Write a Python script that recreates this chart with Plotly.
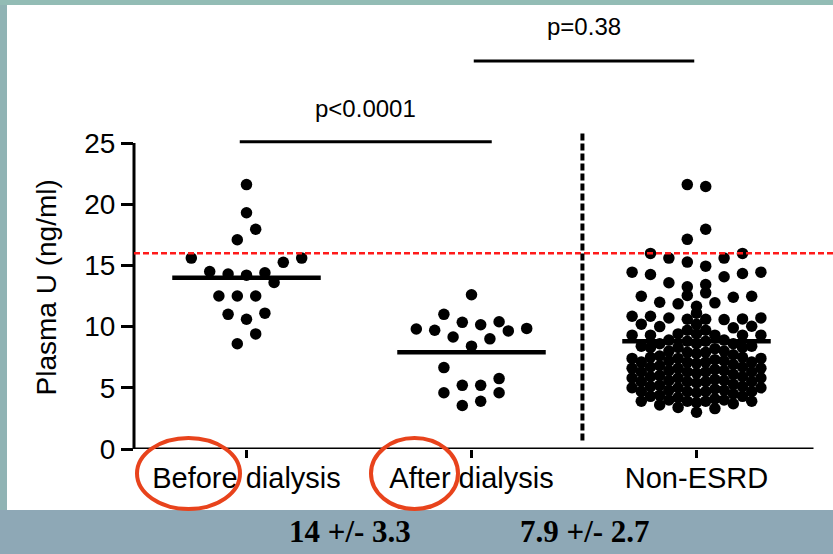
import plotly.graph_objects as go

# ---------------- data ----------------
CATEGORIES = ["Before dialysis", "After dialysis", "Non-ESRD"]
GROUP_MEANS = [14.0, 7.9, 8.8]
MEAN_LABELS = ["14 +/- 3.3", "7.9 +/- 2.7"]
THRESHOLD = 16

# individual values and their swarm column (offset from the category centre)
BEFORE_VALUES = [21.6, 19.3, 17.95, 17.1, 15.6, 15.25, 15.6, 14.5, 14.3, 14.2,
                 14.4, 13.6, 12.5, 12.5, 12.5, 11.0, 10.6, 11.1, 9.4, 8.6]
BEFORE_COLS = [0, 0, 1, -1, -6, 4, 6, -4, -2, 0, 2, 3, -3, -1, 1, -2, 0, 2, 1, -1]

AFTER_VALUES = [12.6, 11.0, 9.8, 9.7, 10.35, 10.15, 10.4, 9.65, 9.85, 9.15,
                9.0, 8.4, 6.65, 5.2, 5.2, 5.75, 4.6, 4.6, 3.55, 3.9]
AFTER_COLS = [0, -3, -6, -4, -1, 1, 3, 4, 6, -2, 2, 0, -3, -1, 1, 3, -3, 3, -1, 1]

# Non-ESRD values listed per swarm column, from column -7 to column +7
NON_ESRD_COLUMNS = [
    [5.0, 5.8, 6.6, 7.4, 9.3, 10.85, 14.45],
    [3.9, 4.7, 5.5, 6.3, 7.1, 8.4, 10.2, 12.48],
    [4.3, 5.1, 5.9, 6.7, 7.5, 8.3, 9.3, 10.85, 14.26, 15.98],
    [3.6, 4.4, 5.2, 6.0, 6.8, 7.6, 8.6, 10.0, 11.99],
    [4.0, 4.8, 5.6, 6.4, 7.2, 8.0, 8.9, 10.7, 13.58, 15.6],
    [3.4, 4.2, 5.0, 5.8, 6.6, 7.4, 8.3, 9.4, 11.86],
    [3.9, 4.7, 5.5, 6.3, 7.1, 7.9, 8.8, 9.7, 10.6, 12.54, 13.25, 15.27, 17.13, 21.6],
    [3.0, 3.8, 4.6, 5.4, 6.2, 7.0, 7.8, 8.6, 9.4, 10.2, 11.1, 11.66],
    [3.9, 4.7, 5.5, 6.3, 7.1, 7.9, 8.8, 9.7, 10.6, 12.76, 13.44, 14.94, 17.95, 21.45],
    [3.3, 4.1, 4.9, 5.7, 6.5, 7.3, 8.2, 9.3, 11.94],
    [4.0, 4.8, 5.6, 6.4, 7.2, 8.0, 8.9, 10.57, 14.07, 15.6],
    [3.7, 4.5, 5.3, 6.1, 6.9, 7.7, 8.6, 9.9, 12.4],
    [4.3, 5.1, 5.9, 6.7, 7.5, 8.3, 9.3, 10.63, 14.34, 15.98],
    [3.9, 4.7, 5.5, 6.3, 7.1, 8.4, 10.03, 12.48],
    [5.0, 5.8, 6.6, 7.4, 9.3, 10.71, 14.45],
]
NON_ESRD_FIRST_COL = -7

P_LABELS = ["p<0.0001", "p=0.38"]
P_SPANS = [(-0.03, 1.09), (1.01, 1.99)]
P_LINE_Y = [25.1, 31.7]
P_TEXT_Y = [27.8, 34.5]

# ---------------- geometry ----------------
W, H = 833, 554
M_L, M_R, M_T, M_B = 134, 0, 6, 105
PLOT_W = W - M_L - M_R
PLOT_H = H - M_T - M_B
X_MIN = -0.5
PX_PER_CAT = 225.0
X_MAX = X_MIN + PLOT_W / PX_PER_CAT
PX_PER_UNIT = 12.24
Y_MAX = PLOT_H / PX_PER_UNIT
SWARM_STEP = 9.2 / PX_PER_CAT
MEAN_HALF = 0.33
AXIS_END = 2.52

FONT = "Liberation Sans, Arial, sans-serif"


def paper_x(px):
    return (px - M_L) / PLOT_W


def paper_y(py):
    return (H - M_B - py) / PLOT_H


# flatten the swarm data
xs, ys = [], []
for v, c in zip(BEFORE_VALUES, BEFORE_COLS):
    xs.append(0 + c * SWARM_STEP)
    ys.append(v)
for v, c in zip(AFTER_VALUES, AFTER_COLS):
    xs.append(1 + c * SWARM_STEP)
    ys.append(v)
for i, col_vals in enumerate(NON_ESRD_COLUMNS):
    c = NON_ESRD_FIRST_COL + i
    for v in col_vals:
        xs.append(2 + c * SWARM_STEP)
        ys.append(v)

fig = go.Figure()
fig.add_trace(go.Scatter(
    x=xs, y=ys, mode="markers",
    marker=dict(color="black", size=11.5, line=dict(width=0)),
    hoverinfo="skip", showlegend=False,
))

shapes = []
# slide background
shapes.append(dict(type="rect", xref="paper", yref="paper", layer="below",
                   x0=paper_x(0), x1=paper_x(W), y0=paper_y(0), y1=paper_y(6),
                   fillcolor="#93bcb5", line=dict(width=0)))
shapes.append(dict(type="rect", xref="paper", yref="paper", layer="below",
                   x0=paper_x(0), x1=paper_x(7), y0=paper_y(510), y1=paper_y(5),
                   fillcolor="#90b3b4", line=dict(width=0)))
shapes.append(dict(type="rect", xref="paper", yref="paper", layer="below",
                   x0=paper_x(7), x1=paper_x(W), y0=paper_y(510), y1=paper_y(5),
                   fillcolor="white", line=dict(width=0)))

# axes lines
shapes.append(dict(type="line", xref="paper", yref="y", x0=0, x1=0, y0=0, y1=25,
                   line=dict(color="black", width=3)))
shapes.append(dict(type="line", xref="x", yref="y", x0=X_MIN, x1=AXIS_END, y0=0, y1=0,
                   line=dict(color="black", width=3)))

# reference threshold
shapes.append(dict(type="line", xref="paper", yref="y", x0=0, x1=1, y0=THRESHOLD, y1=THRESHOLD,
                   line=dict(color="#ff1a1a", width=2.5, dash="6px,3px")))

# separator between dialysis groups and controls
shapes.append(dict(type="line", xref="x", yref="y", x0=1.493, x1=1.493, y0=0.7, y1=25.9,
                   line=dict(color="black", width=4, dash="7px,3px")))

# group means
for i, m in enumerate(GROUP_MEANS):
    shapes.append(dict(type="line", xref="x", yref="y", x0=i - MEAN_HALF, x1=i + MEAN_HALF,
                       y0=m, y1=m, line=dict(color="black", width=4.5)))

# comparison bars
for (a, b), ly in zip(P_SPANS, P_LINE_Y):
    shapes.append(dict(type="line", xref="x", yref="y", x0=a, x1=b, y0=ly, y1=ly,
                       line=dict(color="black", width=3)))

# highlight rings around "Before" and "After"
for x0, x1 in [(137, 240), (371, 458)]:
    shapes.append(dict(type="circle", xref="paper", yref="paper",
                       x0=paper_x(x0), x1=paper_x(x1), y0=paper_y(509), y1=paper_y(438),
                       line=dict(color="#e8431c", width=4)))

annotations = []
for lbl, (a, b), ty in zip(P_LABELS, P_SPANS, P_TEXT_Y):
    annotations.append(dict(text=lbl, x=(a + b) / 2, y=ty, xref="x", yref="y",
                            xanchor="center", yanchor="middle",
                            showarrow=False, font=dict(family=FONT, size=24, color="black")))

annotations.append(dict(text="Plasma U (ng/ml)", textangle=-90, xref="paper", yref="y",
                        x=paper_x(46), y=13.2, xanchor="center", yanchor="middle",
                        showarrow=False, font=dict(family=FONT, size=28, color="black")))

for lbl, cx in zip(MEAN_LABELS, [0.46, 1.505]):
    annotations.append(dict(text="<b>" + lbl + "</b>", xref="x", yref="paper",
                            x=cx, y=paper_y(531), xanchor="center", yanchor="middle",
                            showarrow=False,
                            font=dict(family="Liberation Serif, Times New Roman, serif",
                                      size=31, color="black")))

fig.update_layout(
    width=W, height=H,
    margin=dict(l=M_L, r=M_R, t=M_T, b=M_B, pad=0),
    paper_bgcolor="#8ea8b6",
    plot_bgcolor="rgba(0,0,0,0)",
    showlegend=False,
    shapes=shapes,
    annotations=annotations,
    xaxis=dict(range=[X_MIN, X_MAX], tickvals=[0, 1, 2], ticktext=CATEGORIES,
               showgrid=False, zeroline=False, showline=False,
               ticks="outside", ticklen=8, tickwidth=3, tickcolor="black",
               ticklabelstandoff=-5,
               tickfont=dict(family=FONT, size=29, color="black")),
    yaxis=dict(range=[0, Y_MAX], tickvals=[0, 5, 10, 15, 20, 25],
               showgrid=False, zeroline=False, showline=False,
               ticks="outside", ticklen=12, tickwidth=3, tickcolor="black",
               tickfont=dict(family=FONT, size=28, color="black")),
)

fig.write_html("out.html")
